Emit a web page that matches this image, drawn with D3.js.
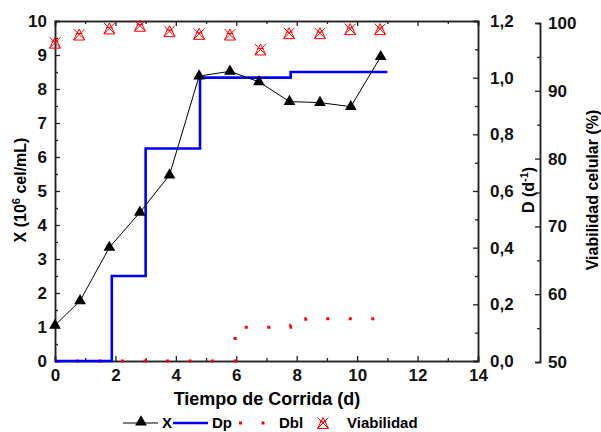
<!DOCTYPE html>
<html>
<head>
<meta charset="utf-8">
<script src="https://cdn.jsdelivr.net/npm/d3@7"></script>
<style>
  body { margin: 0; background: #fff; }
  text { font-family: "Liberation Sans", Arial, sans-serif; font-weight: bold; }
</style>
</head>
<body>
<script>
// X - cell density (10^6 cel/mL)
var xDays = [0, 0.83, 1.8, 2.81, 3.79, 4.77, 5.79, 6.75, 7.76, 8.77, 9.79, 10.78];
var xVals = [1.05, 1.77, 3.34, 4.37, 5.47, 8.38, 8.52, 8.21, 7.63, 7.6, 7.48, 8.95];

// Dp - step dilution rate (d-1)
var dpDays = [0, 1.88, 3.0, 4.8, 7.8, 11.0];
var dpVals = [0, 0.30, 0.75, 1.0, 1.02, 1.02];

// Dbl - bleed rate (d-1), step
var dblDays = [0, 5.96, 7.8, 8.3, 10.8];
var dblVals = [0, 0.119, 0.126, 0.149, 0.149];

// Viabilidad celular (%)
var viaDays = [0, 0.8, 1.8, 2.81, 3.79, 4.77, 5.79, 6.8, 7.75, 8.77, 9.77, 10.76];
var viaVals = [97.1, 98.3, 99.2, 99.6, 98.8, 98.4, 98.3, 96.1, 98.5, 98.5, 99.1, 99.1];

var W = 601, H = 432;
var L = 55, R = 478, T = 21, B = 361;

var svg = d3.select("body").append("svg")
    .attr("width", W)
    .attr("height", H);

var sx = d3.scaleLinear().domain([0, 14]).range([L, R]);
var sy = d3.scaleLinear().domain([0, 10]).range([B, T]);
var sd = d3.scaleLinear().domain([0, 1.2]).range([B, T]);
var sv = d3.scaleLinear().domain([50, 100]).range([362, 23]);

function styleAxis(g) {
  g.select(".domain").attr("stroke", "#222").attr("stroke-width", 1.5);
  g.selectAll(".tick line").attr("stroke", "#222").attr("stroke-width", 1.3);
  g.selectAll(".tick text").attr("font-size", 17).attr("fill", "#111")
    .style("font-family", "'Liberation Sans', Arial, sans-serif").style("font-weight", "bold");
}

// minor ticks first
svg.append("g").attr("transform", "translate(0," + B + ")")
  .call(d3.axisBottom(sx).tickValues(d3.range(1, 14, 2)).tickSize(-3).tickFormat(""))
  .call(styleAxis);
svg.append("g").attr("transform", "translate(0," + T + ")")
  .call(d3.axisTop(sx).tickValues(d3.range(1, 14, 2)).tickSize(-3).tickFormat(""))
  .call(styleAxis);
svg.append("g").attr("transform", "translate(" + L + ",0)")
  .call(d3.axisLeft(sy).tickValues(d3.range(0.5, 10, 1)).tickSize(-3).tickFormat(""))
  .call(styleAxis);
svg.append("g").attr("transform", "translate(" + R + ",0)")
  .call(d3.axisRight(sd).tickValues(d3.range(0.1, 1.2, 0.2)).tickSize(-3).tickFormat(""))
  .call(styleAxis);
svg.append("g").attr("transform", "translate(540,0)")
  .call(d3.axisRight(sv).tickValues(d3.range(55, 100, 10)).tickSize(-3).tickFormat(""))
  .call(styleAxis);

// major ticks
svg.append("g").attr("transform", "translate(0," + B + ")")
  .call(d3.axisBottom(sx).tickValues(d3.range(0, 15, 2)).tickSize(-5).tickPadding(8))
  .call(styleAxis);
svg.append("g").attr("transform", "translate(0," + T + ")")
  .call(d3.axisTop(sx).tickValues(d3.range(0, 15, 2)).tickSize(-5).tickFormat(""))
  .call(styleAxis);
svg.append("g").attr("transform", "translate(" + L + ",0)")
  .call(d3.axisLeft(sy).tickValues(d3.range(0, 11, 1)).tickSize(-5).tickPadding(8))
  .call(styleAxis);
svg.append("g").attr("transform", "translate(" + R + ",0)")
  .call(d3.axisRight(sd).tickValues([0, 0.2, 0.4, 0.6, 0.8, 1.0, 1.2]).tickSize(-5).tickPadding(12)
    .tickFormat(function(d) { return d3.format(".1f")(d).replace(".", ","); }))
  .call(styleAxis);
svg.append("g").attr("transform", "translate(540,0)")
  .call(d3.axisRight(sv).tickValues(d3.range(50, 101, 10)).tickSize(-5).tickPadding(8))
  .call(styleAxis);

// Dbl dotted step line
var dblPts = dblDays.map(function(d, i) { return [d, dblVals[i]]; });
svg.append("path")
  .datum(dblPts)
  .attr("fill", "none")
  .attr("stroke", "#ff0000")
  .attr("stroke-width", 3)
  .attr("stroke-dasharray", "3,19.5")
  .attr("stroke-dashoffset", 1.5)
  .attr("d", d3.line().curve(d3.curveStepAfter)
    .x(function(d) { return sx(d[0]); }).y(function(d) { return sd(d[1]); }));

// Dp step line
var dpPts = dpDays.map(function(d, i) { return [d, dpVals[i]]; });
svg.append("path")
  .datum(dpPts)
  .attr("fill", "none")
  .attr("stroke", "#0000ff")
  .attr("stroke-width", 2.6)
  .attr("d", d3.line().curve(d3.curveStepAfter)
    .x(function(d) { return sx(d[0]); }).y(function(d) { return sd(d[1]); }));

// X line + triangles
var xPts = xDays.map(function(d, i) { return [d, xVals[i]]; });
svg.append("path")
  .datum(xPts)
  .attr("fill", "none")
  .attr("stroke", "#000")
  .attr("stroke-width", 1)
  .attr("d", d3.line().x(function(d) { return sx(d[0]); }).y(function(d) { return sy(d[1]); }));

var tri = d3.symbol().type(d3.symbolTriangle).size(60);
svg.selectAll(".tri")
  .data(xPts)
  .enter()
  .append("path")
    .attr("transform", function(d) { return "translate(" + sx(d[0]) + "," + sy(d[1]) + ")"; })
    .attr("d", tri)
    .attr("fill", "#000");

// Viabilidad markers
function viaMarker(g) {
  var s = 5.5;
  g.append("path")
    .attr("d", "M" + (-s) + "," + s + "L0," + (-s) + "L" + s + "," + s + "Z" +
               "M" + (-s) + "," + (-s) + "L" + s + "," + s +
               "M" + s + "," + (-s) + "L" + (-s) + "," + s +
               "M" + (-s * 0.6) + "," + (-s * 0.2) + "L" + (s * 0.6) + "," + (-s * 0.2))
    .attr("fill", "none")
    .attr("stroke", "#ff0000")
    .attr("stroke-width", 1);
}
var viaPts = viaDays.map(function(d, i) { return [d, viaVals[i]]; });
svg.selectAll(".via")
  .data(viaPts)
  .enter()
  .append("g")
    .attr("transform", function(d) { return "translate(" + sx(d[0]) + "," + sv(d[1]) + ")"; })
    .each(function() { viaMarker(d3.select(this)); });

// axis titles
svg.append("text")
  .attr("x", 267).attr("y", 405)
  .attr("text-anchor", "middle").attr("font-size", 18)
  .text("Tiempo de Corrida (d)");

var yl = svg.append("text")
  .attr("transform", "translate(26,190) rotate(-90)")
  .attr("text-anchor", "middle").attr("font-size", 16);
yl.append("tspan").text("X (10");
yl.append("tspan").attr("font-size", 11).attr("dy", -6).text("6");
yl.append("tspan").attr("dy", 6).text(" cel/mL)");

var dl = svg.append("text")
  .attr("transform", "translate(534,190) rotate(-90)")
  .attr("text-anchor", "middle").attr("font-size", 16);
dl.append("tspan").text("D (d");
dl.append("tspan").attr("font-size", 11).attr("dy", -6).text("-1");
dl.append("tspan").attr("dy", 6).text(")");

svg.append("text")
  .attr("transform", "translate(598,190) rotate(-90)")
  .attr("text-anchor", "middle").attr("font-size", 16)
  .text("Viabilidad celular (%)");

// legend
var lg = svg.append("g").attr("transform", "translate(0,423)");
lg.append("line").attr("x1", 123).attr("x2", 158).attr("y1", 0).attr("y2", 0)
  .attr("stroke", "#000").attr("stroke-width", 1);
lg.append("path").attr("transform", "translate(141,-1)").attr("d", tri).attr("fill", "#000");
lg.append("text").attr("x", 162).attr("y", 5).attr("font-size", 15).text("X");
lg.append("line").attr("x1", 173).attr("x2", 208).attr("y1", 0).attr("y2", 0)
  .attr("stroke", "#0000ff").attr("stroke-width", 2.6);
lg.append("text").attr("x", 212).attr("y", 5).attr("font-size", 15).text("Dp");
lg.append("line").attr("x1", 238).attr("x2", 273).attr("y1", 0).attr("y2", 0)
  .attr("stroke", "#ff0000").attr("stroke-width", 3).attr("stroke-dasharray", "3,19.5")
  .attr("stroke-dashoffset", -1);
lg.append("text").attr("x", 279).attr("y", 5).attr("font-size", 15).text("Dbl");
lg.append("g").attr("transform", "translate(323,0)").call(viaMarker);
lg.append("text").attr("x", 347).attr("y", 5).attr("font-size", 15).text("Viabilidad");
</script>
</body>
</html>
